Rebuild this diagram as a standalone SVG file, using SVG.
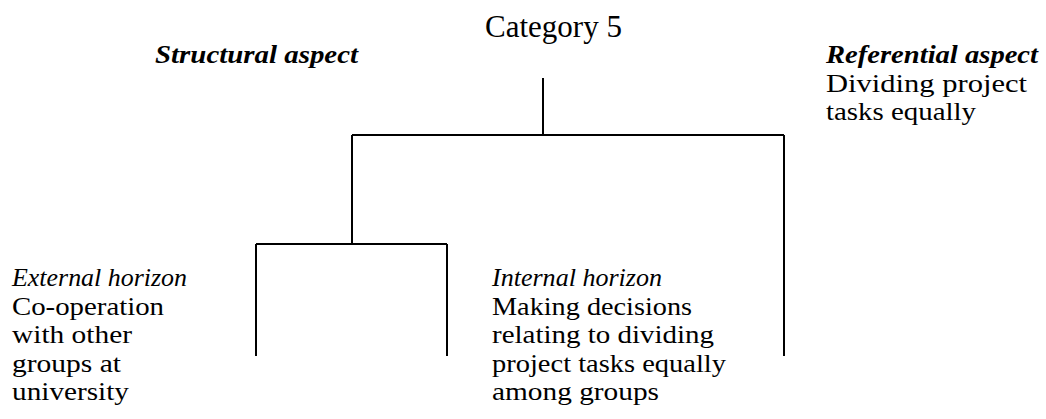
<svg xmlns="http://www.w3.org/2000/svg" width="1046" height="419" viewBox="0 0 1046 419">
<style>
.t{font-family:"Liberation Serif","Times New Roman",serif;font-size:26px;fill:#000}
.i{font-style:italic}
.b{font-weight:bold}
.c{stroke:#000;stroke-width:2;fill:none}
</style>
<rect width="1046" height="419" fill="#fff"/>
<g id="connectors">
<path class="c" d="M543,78V135M352,135H784M352,135V244M784,135V356M256,244H447M256,244V356M447,244V356"/>
</g>
<g id="category">
<text class="t" x="485" y="37" style="font-size:31px">Category 5</text>
</g>
<g id="structural">
<text class="t i b" x="155" y="63" textLength="203" lengthAdjust="spacingAndGlyphs">Structural aspect</text>
</g>
<g id="referential">
<text class="t i b" x="826" y="63" textLength="212" lengthAdjust="spacingAndGlyphs">Referential aspect</text>
<text class="t" x="826" y="91.5" textLength="201" lengthAdjust="spacingAndGlyphs">Dividing project</text>
<text class="t" x="826" y="120" textLength="150" lengthAdjust="spacingAndGlyphs">tasks equally</text>
</g>
<g id="external">
<text class="t i" x="12" y="286" textLength="175" lengthAdjust="spacingAndGlyphs">External horizon</text>
<text class="t" x="12" y="314.5" textLength="152" lengthAdjust="spacingAndGlyphs">Co-operation</text>
<text class="t" x="12" y="343" textLength="120" lengthAdjust="spacingAndGlyphs">with other</text>
<text class="t" x="12" y="371.5" textLength="109" lengthAdjust="spacingAndGlyphs">groups at</text>
<text class="t" x="12" y="400" textLength="117" lengthAdjust="spacingAndGlyphs">university</text>
</g>
<g id="internal">
<text class="t i" x="492" y="286" textLength="170" lengthAdjust="spacingAndGlyphs">Internal horizon</text>
<text class="t" x="492" y="314.5" textLength="200" lengthAdjust="spacingAndGlyphs">Making decisions</text>
<text class="t" x="492" y="343" textLength="222" lengthAdjust="spacingAndGlyphs">relating to dividing</text>
<text class="t" x="492" y="371.5" textLength="234" lengthAdjust="spacingAndGlyphs">project tasks equally</text>
<text class="t" x="492" y="400" textLength="167" lengthAdjust="spacingAndGlyphs">among groups</text>
</g>
</svg>
